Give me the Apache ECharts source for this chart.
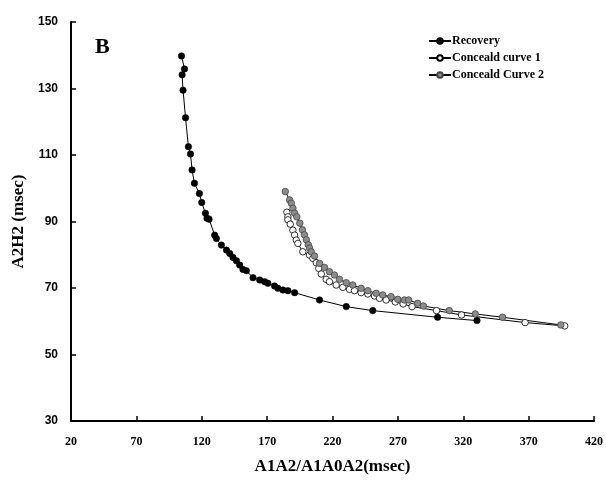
<!DOCTYPE html>
<html><head><meta charset="utf-8">
<script src="https://cdn.jsdelivr.net/npm/echarts@6/dist/echarts.min.js"></script>
<style>html,body{margin:0;padding:0;background:#fff}#c{width:606px;height:482px}</style>
</head><body><div id="c"></div>
<script>
const recoveryX = [104.5,106.8,105,105.7,107.6,109.8,111.4,112.6,114.4,118.2,120,122.8,124,125.6,129.9,131.2,135,138.9,141.4,143.9,146.5,149,151.5,154.1,159.2,164.3,168.1,170.6,175.7,178.2,182.1,185.9,191,210.1,230.5,250.8,300.4,330.5];
const recoveryY = [139.8,135.9,134.1,129.5,121.2,112.5,110.3,105.5,101.5,98.4,95.7,92.5,91,90.7,85.9,84.9,82.9,81.4,80.4,79.2,78.2,76.9,75.6,75.2,73.1,72.4,71.9,71.4,70.6,69.9,69.4,69.2,68.6,66.4,64.4,63.2,61.2,60.2];
const curve1X = [185.1,185.9,185.9,187.7,189.7,191,192.3,193.5,197.3,202.4,205,207.6,209.5,211.4,215.2,217.7,222.8,227.9,233,236.8,241.9,247,252.1,255.9,261,268,274,280.8,299.6,318.7,367.3,397.6];
const curve1Y = [92.8,91.4,90.5,89.2,87.4,85.9,84.4,83.4,80.9,79.9,78.9,77.6,75.9,74.2,72.6,71.9,70.9,70.2,69.6,69.2,68.6,68.2,67.6,66.9,66.4,65.8,65.2,64.4,63.2,61.9,59.6,58.6];
const curve2X = [183.9,187.2,188.5,189.7,191,192.7,195,197,198.5,200,201.5,202.5,203.7,206.3,210.1,213.9,217.7,221.5,225.3,230.5,235.5,241.9,247,253.4,258.4,264.8,269.9,275,278.2,285.1,289.5,309.3,329.2,350,394.6];
const curve2Y = [99,96.5,95.5,94,92.5,91.4,89.5,87.5,86,84.5,83,82,80.9,79.6,77.4,76.2,74.9,73.9,72.6,71.6,70.9,69.9,69.2,68.4,67.9,67.4,66.6,66.4,66.4,65.4,64.6,63.2,62.2,61.2,58.9];
const seriesNames = ['Recovery','Conceald curve 1','Conceald Curve 2'];
const xTicks = {min:20,max:420,interval:50};
const yTicks = {min:30,max:150,interval:20};
const zip = (a,b)=>a.map((v,i)=>[v,b[i]]);

const chart = echarts.init(document.getElementById('c'));
const serif = '"Liberation Serif", "Times New Roman", serif';
const sans = '"Liberation Sans", Arial, sans-serif';
chart.setOption({
  animation:false,
  backgroundColor:'#fff',
  grid:{left:71,right:11,top:22,bottom:61,containLabel:false},
  graphic:[{type:'text',left:95,top:36,style:{text:'B',font:'bold 22px '+serif,fill:'#000'}}],
  legend:{
    orient:'vertical',left:423,top:30,itemGap:5,itemWidth:22,itemHeight:7,
    textStyle:{fontFamily:serif,fontWeight:'bold',fontSize:12,color:'#000',padding:[0,0,0,-4]},
    data:seriesNames.map(n=>({name:n}))
  },
  xAxis:{
    type:'value',min:xTicks.min,max:xTicks.max,interval:xTicks.interval,
    name:'A1A2/A1A0A2(msec)',nameLocation:'middle',nameGap:37,
    nameTextStyle:{fontFamily:serif,fontWeight:'bold',fontSize:17,color:'#000'},
    axisLine:{lineStyle:{color:'#000',width:2}},
    axisTick:{inside:true,length:5,lineStyle:{color:'#000',width:1.5}},
    axisLabel:{fontFamily:serif,fontWeight:'bold',fontSize:12,color:'#000',margin:15},
    splitLine:{show:false}
  },
  yAxis:{
    type:'value',min:yTicks.min,max:yTicks.max,interval:yTicks.interval,
    name:'A2H2 (msec)',nameLocation:'middle',nameGap:43,nameRotate:90,
    nameTextStyle:{fontFamily:serif,fontWeight:'bold',fontSize:17,color:'#000'},
    axisLine:{show:true,lineStyle:{color:'#000',width:2}},
    axisTick:{show:true,inside:true,length:5,lineStyle:{color:'#000',width:1.5}},
    axisLabel:{fontFamily:sans,fontWeight:'bold',fontSize:12,color:'#000',margin:13},
    splitLine:{show:false}
  },
  series:[
    {name:seriesNames[0],type:'line',data:zip(recoveryX,recoveryY),symbol:'circle',symbolSize:6.5,
     lineStyle:{color:'#000',width:1},itemStyle:{color:'#000',borderColor:'#000',borderWidth:0.5}},
    {name:seriesNames[1],type:'line',data:zip(curve1X,curve1Y),symbol:'circle',symbolSize:6.5,
     lineStyle:{color:'#000',width:1},itemStyle:{color:'#fff',borderColor:'#000',borderWidth:0.8}},
    {name:seriesNames[2],type:'line',data:zip(curve2X,curve2Y),symbol:'circle',symbolSize:6.5,
     lineStyle:{color:'#000',width:1},itemStyle:{color:'#8c8c8c',borderColor:'#444',borderWidth:0.8}}
  ]
});
</script></body></html>
